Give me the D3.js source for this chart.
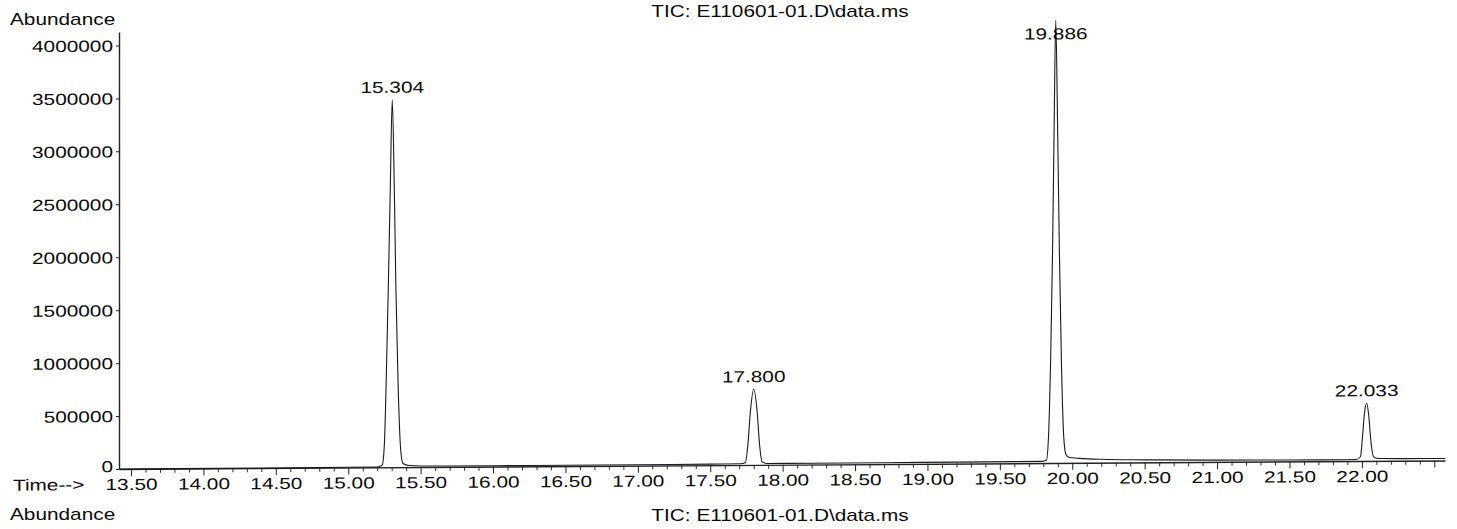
<!DOCTYPE html>
<html>
<head>
<meta charset="utf-8">
<script src="https://cdn.jsdelivr.net/npm/d3@7"></script>
<style>
  body { margin: 0; background: #fff; }
  text { font-family: "Liberation Sans", Arial, sans-serif; fill: #0a0a0a; }
</style>
</head>
<body>
<svg id="chart" width="1457" height="529"></svg>
<script>
// Total ion chromatogram: retention time (min) vs abundance
const tracePoints = [
  [13.42, 0], [13.8, 0], [14.4, 0], [15.0, 2000], [15.2, 3000],
  // peak at 15.304
  [15.234, 20000], [15.249, 200000], [15.262, 800000], [15.276, 1650000], [15.290, 2600000],
  [15.304, 3470000],
  [15.318, 2650000], [15.329, 1700000], [15.345, 750000], [15.362, 170000], [15.378, 35000],
  [15.42, 15000], [15.5, 10000],
  [16.0, 8000], [16.5, 8000], [17.0, 9000], [17.5, 10000], [17.71, 11000],
  // peak at 17.800
  [17.742, 20000], [17.760, 190000], [17.777, 500000],
  [17.800, 715000],
  [17.824, 500000], [17.840, 200000], [17.858, 30000], [17.89, 13000],
  [18.2, 12000], [18.7, 13000], [19.2, 14000], [19.6, 15000], [19.79, 16000],
  // peak at 19.886
  [19.821, 25000], [19.836, 250000], [19.851, 1000000], [19.864, 2000000], [19.875, 3200000],
  [19.886, 4180000],
  [19.898, 3250000], [19.911, 2000000], [19.926, 900000], [19.941, 250000], [19.956, 80000],
  [19.98, 50000], [20.05, 42000], [20.2, 32000], [20.5, 24000], [21.0, 17000], [21.5, 14000],
  [21.9, 13000], [21.96, 14000],
  // peak at 22.033
  [21.99, 40000], [22.005, 240000], [22.018, 450000],
  [22.033, 545000],
  [22.048, 420000], [22.062, 190000], [22.08, 40000], [22.11, 22000], [22.3, 20000], [22.574, 18000]
];

const peakTimes = [15.304, 17.800, 19.886, 22.033];
const peakLabels = ["15.304", "17.800", "19.886", "22.033"];

const yTickValues = [0, 500000, 1000000, 1500000, 2000000, 2500000, 3000000, 3500000, 4000000];
const xMajorTicks = [13.5, 14.0, 14.5, 15.0, 15.5, 16.0, 16.5, 17.0, 17.5, 18.0, 18.5, 19.0, 19.5, 20.0, 20.5, 21.0, 21.5, 22.0, 22.5];
const xLabelledTicks = [13.5, 14.0, 14.5, 15.0, 15.5, 16.0, 16.5, 17.0, 17.5, 18.0, 18.5, 19.0, 19.5, 20.0, 20.5, 21.0, 21.5, 22.0];

const titleText = "TIC: E110601-01.D\\data.ms";
const yAxisTitle = "Abundance";
const xAxisTitle = "Time-->";

// layout
const FONT = 16, SX = 1.3;
const x0 = 119, x1 = 1445, yBase = 469, yTop = 32;

const svg = d3.select("#chart");

const x = d3.scaleLinear().domain([13.417, 22.574]).range([x0, x1]);
const y = d3.scaleLinear().domain([0, 4127000]).range([yBase, yTop]);

// the printed trace drifts upward slightly toward the right
const plot = svg.append("g")
  .attr("transform", `translate(${x0},${yBase}) skewY(-0.37) translate(${-x0},${-yBase})`);

// y axis
const yAxis = plot.append("g")
  .attr("transform", `translate(${x0},0)`)
  .call(d3.axisLeft(y).tickValues(yTickValues).tickSize(3).tickSizeOuter(0).tickFormat(d3.format("d")));
yAxis.selectAll("path.domain").attr("stroke", "#222").attr("stroke-width", 1.4);
yAxis.selectAll(".tick line").attr("stroke", "#222");
yAxis.selectAll(".tick text")
  .attr("x", -6 / SX)
  .attr("dy", d => d === 0 ? "0.17em" : "0.35em")   // zero sits a touch high, clear of the time labels
  .attr("transform", `scale(${SX},1)`)
  .style("font-size", FONT + "px");

// x axis: minor ticks every 0.1 min
const minorTicks = d3.range(135, 226, 1).map(d => d / 10).filter(d => !xMajorTicks.some(m => Math.abs(m - d) < 1e-6));
plot.append("g")
  .attr("transform", `translate(0,${yBase})`)
  .call(d3.axisBottom(x).tickValues(minorTicks).tickSize(4).tickSizeOuter(0).tickFormat(""))
  .call(g => g.select("path.domain").remove())
  .selectAll(".tick line").attr("stroke", "#333");

const xAxis = plot.append("g")
  .attr("transform", `translate(0,${yBase})`)
  .call(d3.axisBottom(x).tickValues(xMajorTicks).tickSize(7).tickSizeOuter(0)
    .tickFormat(d => xLabelledTicks.includes(d) ? d3.format(".2f")(d) : ""));
xAxis.selectAll("path.domain").attr("stroke", "#222").attr("stroke-width", 1.4);
xAxis.selectAll(".tick line").attr("stroke", "#222");
xAxis.selectAll(".tick text")
  .attr("y", 21).attr("dy", 0)
  .attr("transform", `scale(${SX},1)`)
  .style("font-size", FONT + "px");

// "Time-->" label
plot.append("text")
  .attr("transform", `translate(13,490) scale(${SX},1)`)
  .style("font-size", FONT + "px")
  .text(xAxisTitle);

// chromatogram trace
const line = d3.line()
  .x(d => x(d[0]))
  .y(d => y(d[1]))
  .curve(d3.curveMonotoneX);

plot.append("path")
  .datum(tracePoints)
  .attr("fill", "none")
  .attr("stroke", "#1a1a1a")
  .attr("stroke-width", 1.1)
  .attr("d", line);

// retention time labels above each peak, kept below the top tick
const apexValue = t => tracePoints.find(p => Math.abs(p[0] - t) < 1e-9)[1];
plot.selectAll("text.peak")
  .data(peakTimes)
  .join("text")
  .attr("class", "peak")
  .attr("text-anchor", "middle")
  .style("font-size", FONT + "px")
  .attr("transform", t => {
    const ty = Math.max(y(apexValue(t)) - 7, y(4000000));
    return `translate(${x(t)},${ty}) scale(${SX},1)`;
  })
  .text((t, i) => peakLabels[i]);

// headers
svg.append("text")
  .attr("transform", `translate(10,25) scale(${SX},1)`)
  .style("font-size", FONT + "px")
  .text(yAxisTitle);
svg.append("text")
  .attr("text-anchor", "middle")
  .attr("transform", `translate(780,17) scale(${SX},1)`)
  .style("font-size", FONT + "px")
  .text(titleText);

// header of the following panel, cut off by the page edge
svg.append("text")
  .attr("transform", `translate(10,520) scale(${SX},1)`)
  .style("font-size", FONT + "px")
  .text(yAxisTitle);
svg.append("text")
  .attr("text-anchor", "middle")
  .attr("transform", `translate(780,521) scale(${SX},1)`)
  .style("font-size", FONT + "px")
  .text(titleText);
</script>
</body>
</html>
